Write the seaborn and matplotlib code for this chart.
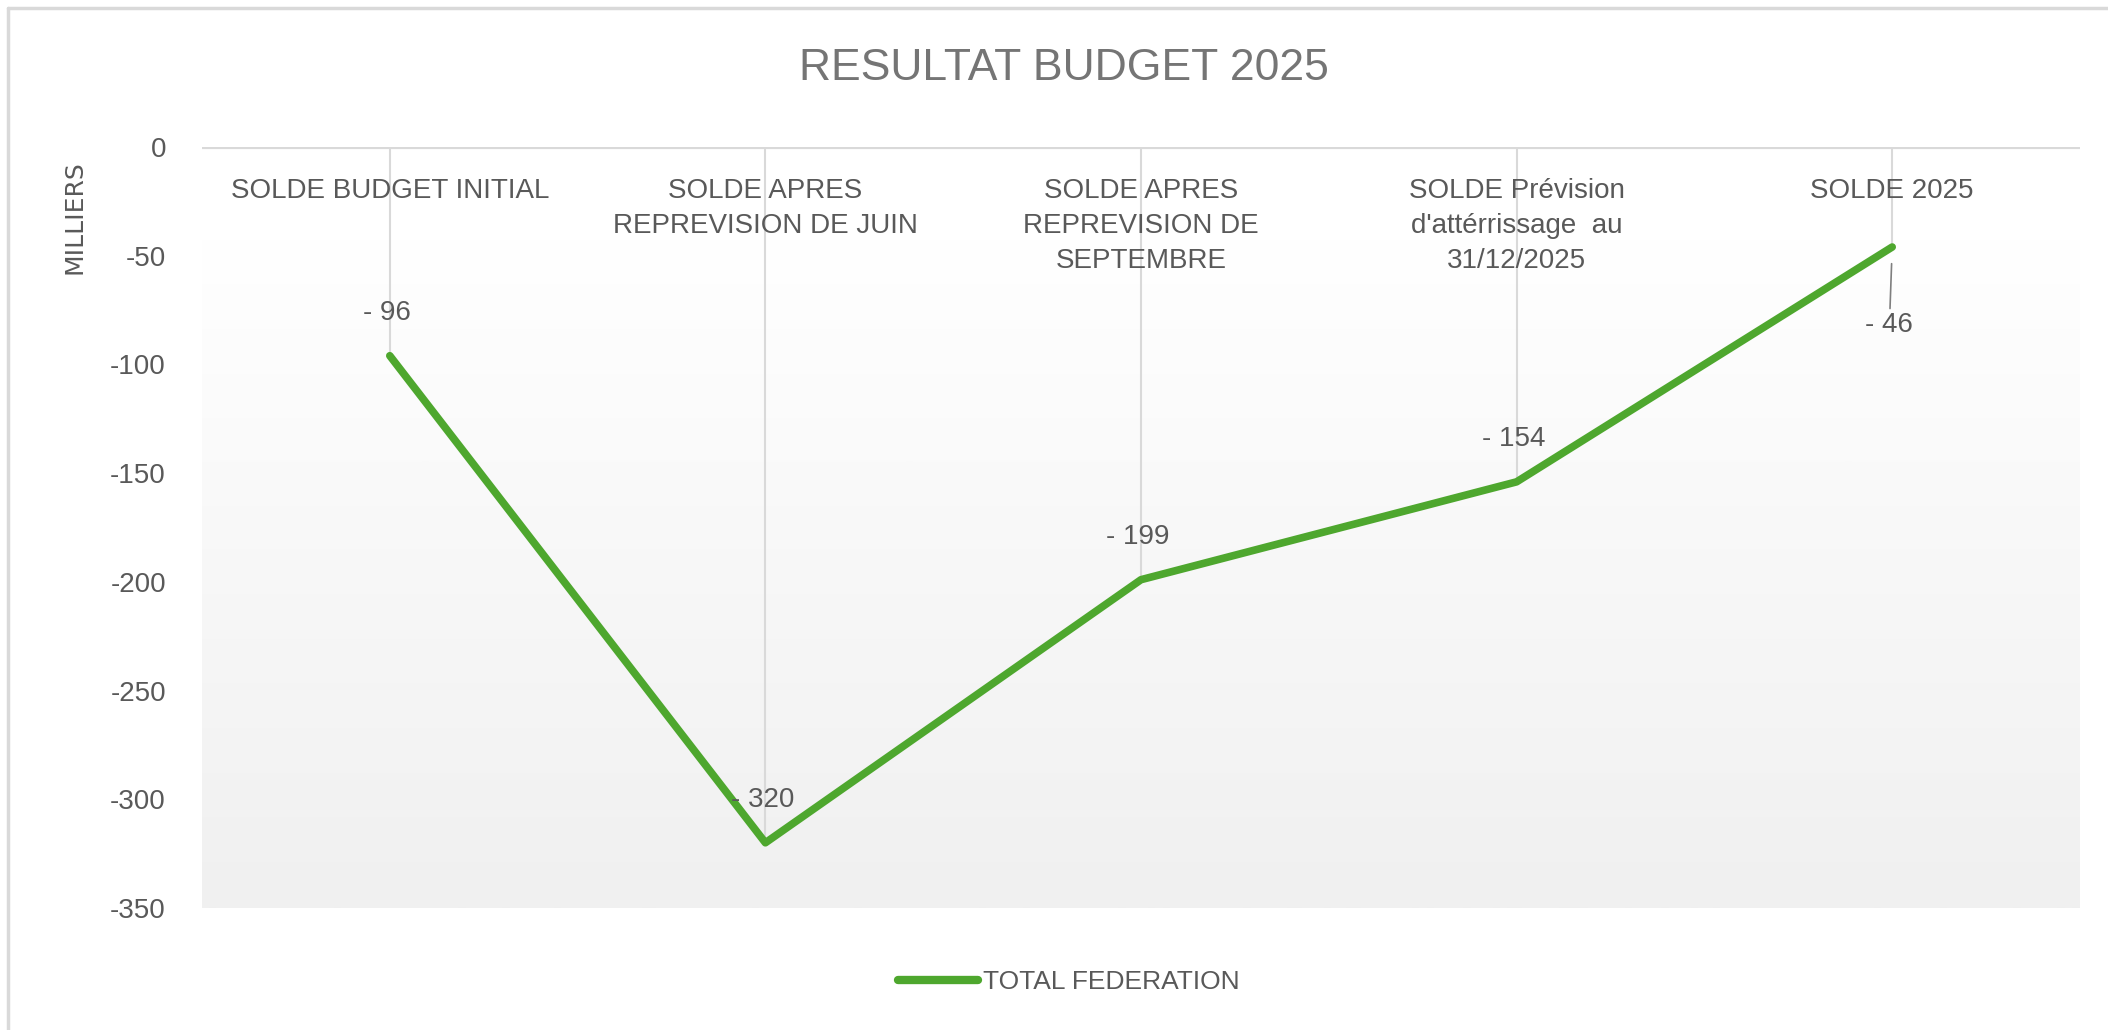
import matplotlib
matplotlib.use("Agg")
import matplotlib.pyplot as plt
from matplotlib.lines import Line2D
import seaborn as sns
import pandas as pd
import numpy as np

# donnees (en milliers)
categories = [
    "SOLDE BUDGET INITIAL",
    "SOLDE APRES\nREPREVISION DE JUIN",
    "SOLDE APRES\nREPREVISION DE\nSEPTEMBRE",
    "SOLDE Prévision\nd'attérrissage  au\n31/12/2025",
    "SOLDE 2025",
]
soldes = [-96, -320, -199, -154, -46]
etiquettes = ["- 96", "- 320", "- 199", "- 154", "- 46"]
yticks = [0, -50, -100, -150, -200, -250, -300, -350]

vert = "#4ea72e"
gris_txt = "#595959"
gris_ligne = "#d9d9d9"

sns.set_theme(style="white")
plt.rcParams['font.family'] = ['Liberation Sans Narrow', 'Liberation Sans', 'DejaVu Sans']

fig = plt.figure(figsize=(21.08, 10.30), dpi=100)
ax = fig.add_axes([202/2108, 1 - 908/1030, (2080 - 202)/2108, (908 - 147)/1030])

df = pd.DataFrame({"pos": np.arange(len(categories)), "solde": soldes})

# fond en degrade blanc -> gris clair
grad = np.linspace(0, 1, 256).reshape(-1, 1)
grad = np.clip((grad - 0.12) / 0.88, 0, 1)
ax.imshow(grad, extent=[-0.5, 4.5, -350, 0], aspect="auto",
          cmap=matplotlib.colors.LinearSegmentedColormap.from_list("g", ["#ffffff", "#f0f0f0"]),
          origin="upper", zorder=0)

# lignes de projection depuis l'axe (en haut) jusqu'aux points
ax.vlines(df["pos"], 0, df["solde"], color=gris_ligne, lw=1.5, zorder=1)
ax.axhline(0, color=gris_ligne, lw=3, zorder=1)

sns.lineplot(data=df, x="pos", y="solde", ax=ax, color=vert, lw=5.5,
             label="TOTAL FEDERATION", legend=False, zorder=3, sort=False)

ax.set_xlim(-0.5, 4.5)
ax.set_ylim(-350, 0)
ax.set_yticks(yticks)
ax.set_yticklabels([str(v) for v in yticks], fontsize=20, color=gris_txt)
ax.set_xticks([])
ax.tick_params(axis="y", length=0, pad=26)
for s in ax.spines.values():
    s.set_visible(False)
ax.set_xlabel("")
ax.set_ylabel("")

# libelles des categories sous l'axe du haut
for i, lab in enumerate(categories):
    ax.annotate(lab, (i, 0), xytext=(0, -22), textcoords="offset points",
                ha="center", va="top", fontsize=20, color=gris_txt, linespacing=1.45)

# etiquettes de donnees
for i, (v, t) in enumerate(zip(soldes, etiquettes)):
    if i == len(soldes) - 1:
        ax.annotate(t, (i, v), xytext=(-2, -56), textcoords="offset points",
                    ha="center", va="center", fontsize=20, color=gris_txt,
                    arrowprops=dict(arrowstyle="-", color="#7f7f7f", lw=1.2,
                                    shrinkA=0, shrinkB=12))
    else:
        ax.annotate(t, (i, v), xytext=(-2, 31), textcoords="offset points",
                    ha="center", va="center", fontsize=20, color=gris_txt, zorder=4)

fig.text(75/2108, 1 - 217/1030, "MILLIERS", rotation=90, ha="center", va="center",
         fontsize=18, color=gris_txt, family="DejaVu Sans")

fig.text(1064/2108, 1 - 68/1030, "RESULTAT BUDGET 2025", ha="center", va="center",
         fontsize=32, color="#757575")

leg = fig.legend(handles=[Line2D([0], [0], color=vert, lw=6)], labels=["TOTAL FEDERATION"],
                 loc="center", bbox_to_anchor=(1069/2108, 1 - 982/1030), frameon=False,
                 fontsize=19, handlelength=3.0, handletextpad=0.2)
for t in leg.get_texts():
    t.set_color(gris_txt)

# cadre du graphique
fig.add_artist(Line2D([8/2108, 1], [1 - 8/1030, 1 - 8/1030], color=gris_ligne, lw=2.5,
                      transform=fig.transFigure))
fig.add_artist(Line2D([8/2108, 8/2108], [0, 1 - 8/1030], color=gris_ligne, lw=2.5,
                      transform=fig.transFigure))

fig.savefig("out.png", dpi=100)
